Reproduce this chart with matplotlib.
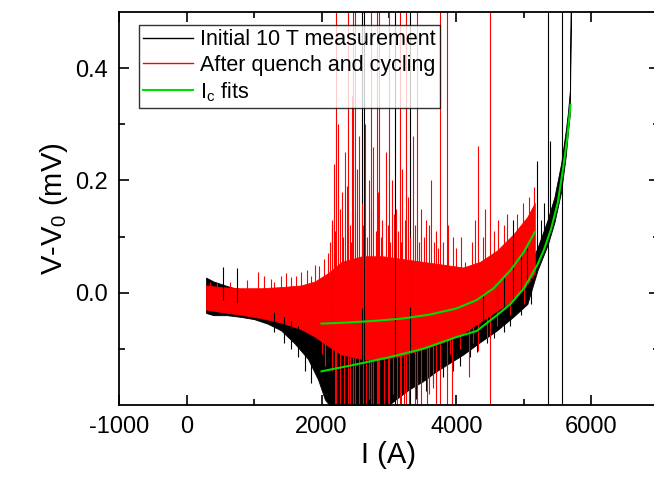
import numpy as np
import matplotlib
matplotlib.use("Agg")
import matplotlib.pyplot as plt
from matplotlib.ticker import FixedLocator

plt.rcParams['font.family'] = ['Liberation Sans', 'DejaVu Sans']
plt.rcParams['axes.unicode_minus'] = False
plt.rcParams['mathtext.fontset'] = 'custom'
plt.rcParams['mathtext.rm'] = 'Liberation Sans'

# initial 10 T measurement: noise band (current in A, voltage in mV)
b_I = [290, 400, 600, 800, 1000, 1200, 1400, 1600, 1800, 1950, 2050, 2300, 2600, 2900, 3100,
       3300, 3500, 3700, 3900, 4100, 4350, 4600, 4850, 5050, 5200, 5350, 5450, 5550, 5620,
       5650, 5680, 5695]
b_lo = [-0.036, -0.040, -0.040, -0.043, -0.047, -0.055, -0.067, -0.090, -0.118, -0.155, -0.19,
        -0.23, -0.23, -0.21, -0.19, -0.172, -0.158, -0.14, -0.125, -0.11, -0.088, -0.067,
        -0.042, -0.02, 0.04, 0.085, 0.125, 0.18, 0.245, 0.285, 0.32, 0.50]
b_hi = [0.027, 0.02, 0.012, 0.005, 0.0, -0.005, -0.012, -0.02, -0.03, -0.04, -0.05, -0.06,
        -0.065, -0.065, -0.065, -0.063, -0.06, -0.055, -0.05, -0.04, -0.03, -0.008, 0.015,
        0.04, 0.08, 0.13, 0.17, 0.23, 0.29, 0.32, 0.36, 0.55]

# after quench and cycling: noise band
r_I = [290, 500, 800, 1100, 1400, 1700, 1900, 2100, 2300, 2600, 2900, 3200, 3500, 3800, 4100,
       4350, 4600, 4850, 5050, 5160]
r_lo = [-0.030, -0.034, -0.039, -0.045, -0.053, -0.065, -0.078, -0.095, -0.11, -0.118, -0.118,
        -0.112, -0.10, -0.088, -0.072, -0.052, -0.032, -0.012, 0.015, 0.035]
r_hi = [0.013, 0.010, 0.008, 0.008, 0.010, 0.013, 0.02, 0.035, 0.055, 0.065, 0.065, 0.06, 0.055,
        0.05, 0.045, 0.055, 0.075, 0.105, 0.135, 0.16]

# spikes running through the whole plotted range
rf_I = [2215, 2398, 2472, 2500, 2728, 2817, 2857, 3005, 3163, 3252, 3420, 3756, 3864, 4496]
bf_I = [2595, 2635, 3089, 3311, 5350, 5558]

# red spikes: tops / bottoms
ru_I = [350, 450, 650, 900, 1060, 1150, 1250, 1300, 1400, 1480, 1550, 1620, 1700, 1780, 1850,
        1900, 1970, 2030, 2100, 2120, 2150, 2180, 2200, 2250, 2270, 2300, 2320, 2350, 2380,
        2420, 2440, 2450, 2490, 2530, 2560, 2600, 2620, 2650, 2680, 2700, 2740, 2770, 2800,
        2840, 2880, 2900, 2950, 2980, 3020, 3040, 3070, 3100, 3140, 3180, 3200, 3230, 3280,
        3310, 3350, 3380, 3440, 3480, 3520, 3550, 3590, 3620, 3660, 3700, 3720, 3800, 3880,
        3950, 4000, 4060, 4126, 4230, 4280, 4318, 4400, 4420, 4550, 4620, 4700, 4750, 4900,
        4980, 5080, 5150]
ru_V = [0.02, 0.018, 0.02, 0.022, 0.037, 0.03, 0.025, 0.02, 0.03, 0.035, 0.028, 0.03, 0.037,
        0.04, 0.03, 0.05, 0.048, 0.06, 0.07, 0.09, 0.13, 0.23, 0.11, 0.30, 0.15, 0.18, 0.10,
        0.25, 0.19, 0.12, 0.09, 0.35, 0.14, 0.22, 0.28, 0.16, 0.12, 0.30, 0.10, 0.20, 0.15,
        0.26, 0.11, 0.18, 0.10, 0.13, 0.25, 0.12, 0.09, 0.20, 0.14, 0.15, 0.11, 0.09, 0.22,
        0.13, 0.17, 0.10, 0.28, 0.12, 0.09, 0.15, 0.10, 0.13, 0.12, 0.20, 0.09, 0.11, 0.08,
        0.09, 0.12, 0.10, 0.08, 0.10, 0.055, 0.09, 0.13, 0.262, 0.10, 0.15, 0.11, 0.13, 0.12,
        0.14, 0.14, 0.16, 0.17, 0.188]
rd_I = [2000, 2050, 2150, 2200, 2280, 2330, 2420, 2560, 2620, 2660, 2700, 2760, 2840, 2920,
        2980, 3060, 3120, 3180, 3220, 3300, 3380, 3480, 3560, 3600, 3650, 3700, 3750, 3900,
        3940, 4050, 4180, 4250, 4318, 4450, 4600, 4800, 5000]
rd_V = [-0.11, -0.13, -0.14, -0.2, -0.25, -0.22, -0.23, -0.25, -0.25, -0.2, -0.19, -0.25, -0.23,
        -0.25, -0.2, -0.18, -0.25, -0.22, -0.25, -0.25, -0.2, -0.22, -0.25, -0.18, -0.17, -0.2,
        -0.12, -0.11, -0.2, -0.10, -0.15, -0.09, -0.104, -0.08, -0.06, -0.04, -0.02]

# black spikes: tops / bottoms
bu_I = [536, 748, 2150, 4400, 4600, 4700, 4840, 4950, 5050, 5193, 5250, 5300, 5385]
bu_V = [0.045, 0.044, 0.12, 0.0, 0.02, 0.03, 0.129, 0.07, 0.08, 0.235, 0.13, 0.16, 0.27]
bd_I = [1300, 1450, 1550, 1650, 1750, 1850, 3400, 3550, 3650, 3800, 3950, 4050, 4200, 4300,
        4450, 4550, 4700, 4800, 4950, 5100]
bd_V = [-0.07, -0.09, -0.10, -0.115, -0.14, -0.16, -0.19, -0.175, -0.16, -0.15, -0.14, -0.13,
        -0.115, -0.105, -0.09, -0.08, -0.07, -0.06, -0.04, -0.02]

# Ic fits
f1_I = [2000, 2400, 2800, 3200, 3600, 4000, 4300, 4550, 4800, 5000, 5160]
f1_V = [-0.055, -0.053, -0.050, -0.046, -0.039, -0.028, -0.013, 0.008, 0.040, 0.073, 0.108]
f2_I = [2000, 2500, 3000, 3500, 4000, 4300, 4600, 4800, 5000, 5200, 5300, 5400, 5500, 5580,
        5640, 5690]
f2_V = [-0.140, -0.128, -0.115, -0.100, -0.079, -0.068, -0.040, -0.020, 0.008, 0.050, 0.078,
        0.113, 0.160, 0.222, 0.275, 0.335]

fig = plt.figure(figsize=(6.54, 4.83), dpi=100)
ax = fig.add_axes([0.182, 0.1615, 0.8256, 0.8135])

lw = 0.8
# black data
b_mid = (np.array(b_lo) + np.array(b_hi)) / 2
ax.fill_between(b_I, b_lo, b_hi, color='black', lw=0.6)
ax.vlines(bu_I, np.interp(bu_I, b_I, b_mid), bu_V, color='black', lw=lw)
ax.vlines(bd_I, np.interp(bd_I, b_I, b_mid), bd_V, color='black', lw=lw)
ax.vlines(bf_I, -0.3, 0.6, color='black', lw=lw)
ax.plot([], [], color='black', lw=1, label='Initial 10 T measurement')

# red data
r_mid = (np.array(r_lo) + np.array(r_hi)) / 2
ax.fill_between(r_I, r_lo, r_hi, color='red', lw=0.6)
ax.vlines(ru_I, np.interp(ru_I, r_I, r_mid), ru_V, color='red', lw=lw)
ax.vlines(rd_I, np.interp(rd_I, r_I, r_mid), rd_V, color='red', lw=lw)
ax.vlines(rf_I, -0.3, 0.6, color='red', lw=lw)
ax.plot([], [], color='red', lw=1, label='After quench and cycling')

# fits
ax.plot(f1_I, f1_V, color='#00dd00', lw=1.5, label='$\\mathregular{I_c}$ fits')
ax.plot(f2_I, f2_V, color='#00dd00', lw=1.5)

ax.set_xlim(-1000, 7000)
ax.set_ylim(-0.2, 0.5)
ax.xaxis.set_major_locator(FixedLocator([-1000, 0, 2000, 4000, 6000]))
ax.xaxis.set_minor_locator(FixedLocator([1000, 3000, 5000]))
ax.yaxis.set_major_locator(FixedLocator([0.0, 0.2, 0.4]))
ax.yaxis.set_minor_locator(FixedLocator([-0.1, 0.1, 0.3]))
ax.set_yticklabels(['0.0', '0.2', '0.4'])
ax.tick_params(which='both', direction='in', top=True, right=True, width=1.2,
               labelsize=17)
ax.tick_params(which='major', length=7, pad=8)
ax.tick_params(which='minor', length=4)
for s in ax.spines.values():
    s.set_linewidth(1.3)

ax.set_xlabel('I (A)', fontsize=21, labelpad=2)
ax.set_ylabel('V-V$_\\mathregular{0}$ (mV)', fontsize=21, labelpad=4)

leg = ax.legend(loc='upper left', bbox_to_anchor=(0.037, 0.967), borderaxespad=0,
                fontsize=15.5, frameon=True, fancybox=False, edgecolor='black',
                handlelength=2.3, handletextpad=0.35, labelspacing=0.2, borderpad=0.2)
leg.get_frame().set_linewidth(1.0)

fig.savefig('out.png', dpi=100)
